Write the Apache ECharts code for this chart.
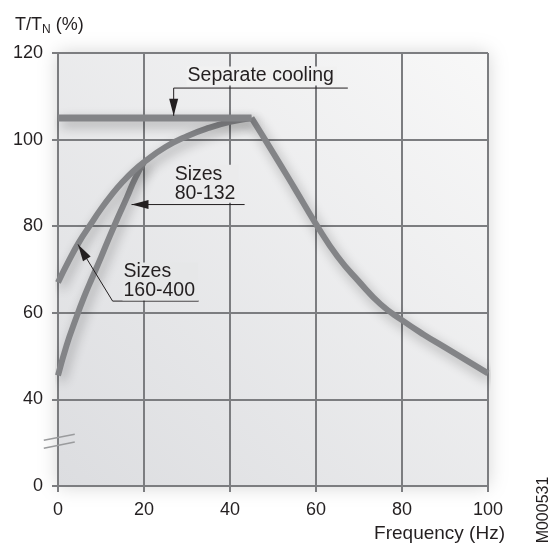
<!DOCTYPE html>
<html>
<head>
<meta charset="utf-8">
<script src="https://cdn.jsdelivr.net/npm/echarts@6/dist/echarts.min.js"></script>
<style>
  html, body { margin: 0; padding: 0; background: #fff; }
  #chart { width: 552px; height: 547px; }
</style>
</head>
<body>
<div id="chart"></div>
<script>
// 数据
const coolingFreq = [0, 45];
const coolingTorque = [105, 105];

const fallFreq = [45, 50, 55, 60, 65, 70, 75, 80, 85, 90, 95, 100];
const fallTorque = [105, 97, 88.8, 80.5, 73, 67.2, 62, 58.3, 55, 52, 49, 46];

const smallFreq = [0, 2.5, 5, 7.5, 10, 12.5, 15, 17.5, 20, 25, 30, 35, 40, 45];
const smallTorque = [67, 72, 76.5, 80.3, 84, 87.3, 90.2, 92.7, 94.8, 98.3, 100.8, 102.7, 104.1, 105];

const largeFreq = [0, 2, 4, 6, 8, 10, 12, 14, 16, 18, 20];
const largeTorque = [45.5, 52.5, 58.2, 63.5, 68.2, 72.8, 77.6, 82.2, 86.6, 91.2, 94.8];

// y axis is broken: the bottom line is labelled 0
const yTickValues = [20, 40, 60, 80, 100, 120];
const yTickLabels = ['0', '40', '60', '80', '100', '120'];

const noteTexts = ['Separate cooling', 'Sizes\n80-132', 'Sizes\n160-400'];

const FONT = '"Liberation Sans", Arial, Helvetica, sans-serif';
const INK = '#231f20';
const GRID = '#7c7d80';
const CURVE = '#838487';

function pairs(xs, ys) {
    return xs.map((x, i) => [x, ys[i]]);
}

// annotation layout (data coords)
const notes = [
    { text: noteTexts[0], at: [29.9, 114.7], bg: '#f1f1f1', leader: [[67.4, 111.9], [26.9, 111.9], [26.9, 105.5]] },
    { text: noteTexts[1], at: [26.9, 89.8], bg: '#ebebec', leader: [[43.4, 85], [17.1, 85]] },
    { text: noteTexts[2], at: [15, 67.2], bg: '#e6e7e8', leader: [[32.7, 62.7], [12.7, 62.7], [4.65, 75.8]] },
];
const breakMarks = [
    [[-3.3, 30.55], [3.9, 31.95]],
    [[-3.3, 28.7], [3.9, 30.15]],
];

function arrowHead(tip, from, len, half) {
    const dx = tip[0] - from[0], dy = tip[1] - from[1];
    const d = Math.sqrt(dx * dx + dy * dy) || 1;
    const ux = dx / d, uy = dy / d;
    const bx = tip[0] - ux * len, by = tip[1] - uy * len;
    return [tip, [bx - uy * half, by + ux * half], [bx + uy * half, by - ux * half]];
}

function renderNotes(params, api) {
    const children = [];
    notes.forEach(n => {
        const pts = n.leader.map(p => api.coord(p));
        children.push({
            type: 'polyline',
            shape: { points: pts },
            style: { stroke: INK, lineWidth: 1, fill: null }
        });
        const tip = pts[pts.length - 1];
        children.push({
            type: 'polygon',
            shape: { points: arrowHead(tip, pts[pts.length - 2], 17, 4.5) },
            style: { fill: INK }
        });
        const p = api.coord(n.at);
        children.push({
            type: 'text',
            x: p[0],
            y: p[1],
            style: {
                text: n.text,
                font: '19.5px ' + FONT,
                fill: INK,
                align: 'left',
                verticalAlign: 'middle',
                lineHeight: 19,
                backgroundColor: n.bg,
                padding: [0, 3, 0, 1]
            }
        });
    });
    breakMarks.forEach(b => {
        const a = api.coord(b[0]), c = api.coord(b[1]);
        children.push({
            type: 'line',
            shape: { x1: a[0], y1: a[1], x2: c[0], y2: c[1] },
            style: { stroke: '#9a9b9d', lineWidth: 1.5 }
        });
    });
    return { type: 'group', children: children };
}

const chart = echarts.init(document.getElementById('chart'));

const curveStyle = {
    color: CURVE,
    width: 6,
    shadowBlur: 12,
    shadowColor: 'rgba(0,0,0,0.3)',
    shadowOffsetX: 3,
    shadowOffsetY: 5
};

const option = {
    animation: false,
    backgroundColor: '#fff',
    title: {
        text: '{m|T/T}{sub|N}{m| (%)}',
        left: 10,
        top: 9,
        textStyle: {
            fontFamily: FONT,
            fontWeight: 'normal',
            color: INK,
            rich: {
                m: { fontFamily: FONT, fontSize: 18, lineHeight: 22, color: INK },
                sub: { fontFamily: FONT, fontSize: 12, lineHeight: 14, padding: [9, 0, 0, 0], color: INK }
            }
        }
    },
    grid: {
        left: 58,
        right: 64,
        top: 53,
        bottom: 61,
        show: true,
        borderWidth: 0,
        backgroundColor: {
            type: 'linear', x: 0, y: 1, x2: 1, y2: 0,
            colorStops: [
                { offset: 0, color: '#dcdde0' },
                { offset: 1, color: '#f8f8f8' }
            ]
        },
        shadowBlur: 18,
        shadowColor: 'rgba(0,0,0,0.18)'
    },
    xAxis: {
        type: 'value',
        min: 0,
        max: 100,
        interval: 20,
        name: 'Frequency (Hz)',
        nameLocation: 'end',
        nameGap: 17,
        nameTextStyle: {
            fontFamily: FONT, fontSize: 19, color: INK,
            align: 'right', verticalAlign: 'top', padding: [38, 0, 0, 0]
        },
        axisLine: { show: true, onZero: false, lineStyle: { color: GRID, width: 2 } },
        axisTick: { show: true, length: 6, lineStyle: { color: GRID, width: 2 } },
        axisLabel: { fontFamily: FONT, fontSize: 18, color: INK, margin: 15 },
        splitLine: { show: true, lineStyle: { color: GRID, width: 2 } }
    },
    yAxis: {
        type: 'value',
        min: 20,
        max: 120,
        interval: 20,
        axisLine: { show: true, onZero: false, lineStyle: { color: GRID, width: 2 } },
        axisTick: { show: true, length: 6, lineStyle: { color: GRID, width: 2 } },
        axisLabel: {
            fontFamily: FONT, fontSize: 18, color: INK, margin: 15,
            formatter: v => {
                const i = yTickValues.indexOf(v);
                return i >= 0 ? yTickLabels[i] : '';
            }
        },
        splitLine: { show: true, lineStyle: { color: GRID, width: 2 } }
    },
    graphic: [{
        type: 'text',
        x: 544,
        y: 510,
        rotation: Math.PI / 2,
        style: { text: 'M000531', font: '16px ' + FONT, fill: INK, align: 'center', verticalAlign: 'middle' }
    }],
    series: [
        {
            name: 'Sizes 160-400',
            type: 'line',
            data: pairs(largeFreq, largeTorque),
            showSymbol: false,
            smooth: true,
            lineStyle: curveStyle,
            z: 3
        },
        {
            name: 'Sizes 80-132',
            type: 'line',
            data: pairs(smallFreq, smallTorque),
            showSymbol: false,
            smooth: true,
            lineStyle: curveStyle,
            z: 3
        },
        {
            name: 'Field weakening',
            type: 'line',
            data: pairs(fallFreq, fallTorque),
            showSymbol: false,
            smooth: true,
            lineStyle: curveStyle,
            z: 3
        },
        {
            name: 'Separate cooling',
            type: 'line',
            data: pairs(coolingFreq, coolingTorque),
            showSymbol: false,
            lineStyle: Object.assign({}, curveStyle, { width: 7 }),
            z: 3
        },
        {
            name: 'notes',
            type: 'custom',
            data: [0],
            clip: false,
            silent: true,
            renderItem: renderNotes,
            z: 5
        }
    ]
};

chart.setOption(option);
</script>
</body>
</html>
